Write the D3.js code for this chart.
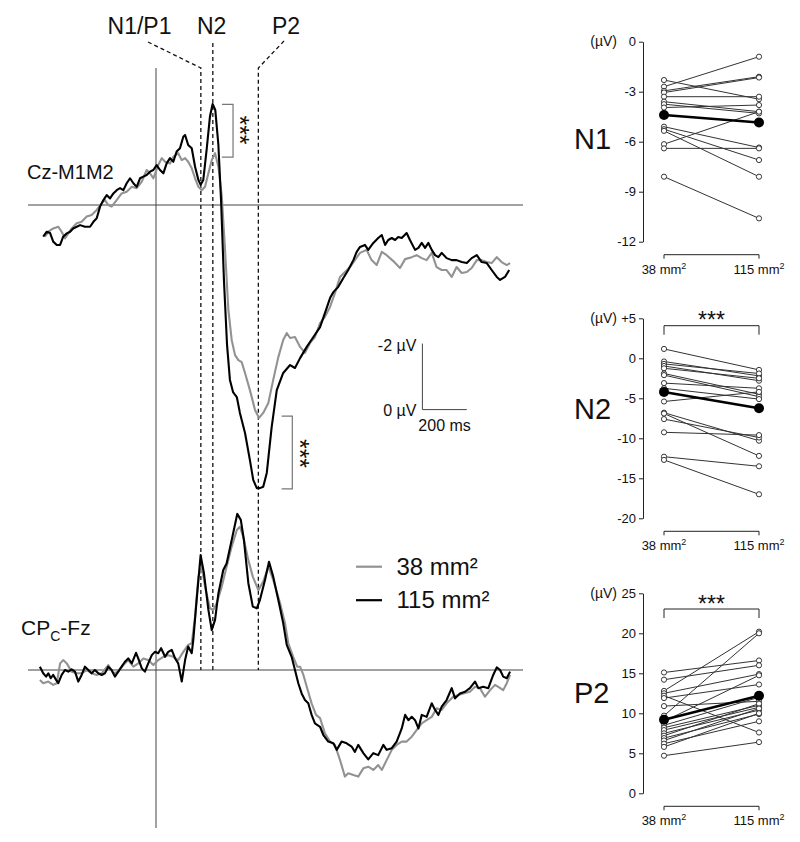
<!DOCTYPE html>
<html>
<head>
<meta charset="utf-8">
<script src="https://d3js.org/d3.v7.min.js"></script>
<style>
body { margin: 0; background: #fff; }
svg text { font-family: "Liberation Sans", Arial, sans-serif; fill: #111; }
</style>
</head>
<body>
<div id="chart"></div>
<script>
(function(){
"use strict";

// grand averages, ms / µV (negative plotted up)
var czTime38 = [-500,-485,-463,-440,-425,-410,-395,-380,-357,-335,-312,-290,-267,-245,-230,-215,-200,-177,-155,-132,-109,-87,-64,-42,-27,-12,10,26,41,63,78,100,116,131,145,161,176,191,206,221,236,251,266,281,296,311,326,341,356,371,386,401,423,446,464,483,506,528,551,573,589,604,626,649,671,694,716,739,761,784,806,829,851,874,896,919,949,971,994,1017,1039,1069,1099,1122,1152,1174,1197,1219,1242,1264,1287,1309,1332,1354,1377,1400,1422,1445,1467,1490,1512,1535,1557,1580,1595];
var czVal38 = [0.96,0.81,0.71,0.66,0.81,1.01,0.86,0.71,0.55,0.51,0.35,0.30,0.15,-0.05,-0.15,0,0.05,-0.15,-0.35,-0.40,-0.55,-0.51,-0.71,-1.06,-0.96,-0.81,-1.21,-1.42,-1.31,-1.26,-1.46,-1.57,-1.36,-1.42,-1.31,-1.11,-0.81,-0.55,-0.45,-0.55,-0.96,-1.36,-1.57,-1.16,-0.30,1.36,3.18,4.09,4.55,4.70,4.76,5.09,5.61,6.21,6.45,6.30,6.00,5.30,4.61,4.09,3.88,4.03,4.00,4.30,4.48,4.18,4.00,3.58,3.39,3.09,2.67,2.18,2.03,1.88,1.67,1.45,1.36,1.67,1.82,1.42,1.52,1.70,1.91,1.64,1.58,1.52,1.61,1.67,1.45,1.88,1.97,1.97,2.18,1.88,2.06,2.03,1.91,1.67,1.67,1.73,1.76,1.58,1.73,1.82,1.76];
var czTime115 = [-508,-492,-477,-463,-447,-432,-418,-402,-387,-373,-357,-342,-320,-297,-282,-267,-252,-237,-222,-207,-192,-177,-162,-147,-132,-117,-102,-87,-72,-57,-42,-27,-12,3,18,33,48,63,78,93,108,123,131,145,161,176,191,201,213,228,243,255,267,281,293,306,320,333,347,364,378,401,423,438,454,468,483,499,521,544,573,604,626,649,679,709,739,769,784,799,821,844,866,889,904,919,941,956,979,1001,1017,1032,1046,1062,1077,1091,1107,1129,1144,1167,1182,1197,1212,1227,1242,1257,1272,1287,1309,1332,1354,1377,1400,1422,1445,1467,1490,1512,1535,1550,1572,1591];
var czVal115 = [0.96,0.81,0.85,1.11,1.21,1.21,0.96,0.86,0.81,0.71,0.66,0.61,0.66,0.66,0.51,0.40,0.05,-0.15,-0.30,-0.20,-0.35,-0.45,-0.51,-0.45,-0.66,-0.81,-0.66,-0.55,-0.81,-0.86,-0.91,-1.01,-1.06,-1.21,-1.06,-0.96,-1.26,-1.42,-1.31,-1.62,-1.72,-2.07,-2.12,-1.82,-1.72,-1.16,-0.76,-0.61,-0.76,-1.67,-2.68,-3.06,-2.88,-1.82,-0.15,2.27,4.24,5.30,5.67,5.82,6.30,6.91,7.73,8.33,8.58,8.58,8.54,8.12,6.73,5.61,5.09,4.85,4.94,4.64,4.30,4.00,3.70,3.12,2.82,2.64,2.48,2.21,1.97,1.67,1.42,1.27,1.21,1.36,1.15,1.00,0.91,1.21,1.06,1.00,1.06,0.97,1.00,0.85,1.06,1.36,1.30,1.15,1.30,1.15,1.36,1.52,1.58,1.45,1.61,1.67,1.67,1.73,1.76,1.61,1.52,1.73,1.76,1.97,2.18,2.27,2.18,1.97];

var cpTime38 = [-523,-508,-485,-463,-447,-432,-418,-402,-380,-357,-335,-312,-290,-267,-245,-215,-192,-170,-147,-125,-102,-80,-57,-35,-12,10,33,55,78,100,123,145,161,176,191,206,221,243,258,273,296,318,341,364,378,393,416,436,461,483,506,528,559,581,596,618,636,649,664,679,701,721,739,761,784,806,829,851,866,889,911,934,956,979,1001,1017,1039,1062,1084,1107,1129,1152,1174,1197,1219,1242,1264,1287,1309,1339,1362,1384,1414,1437,1459,1482,1505,1527,1542,1564,1580,1595];
var cpVal38 = [0.30,0.40,0.35,0.45,0.40,-0.20,-0.30,-0.20,0.05,0.10,0.10,0,0.10,0.15,0.10,-0.15,0.10,0.05,-0.15,-0.30,-0.10,-0.20,-0.35,-0.30,-0.15,-0.30,-0.40,-0.45,-0.40,-0.30,-0.55,-0.76,-0.81,-1.62,-2.83,-3.13,-2.52,-1.87,-1.82,-2.02,-2.52,-3.13,-3.74,-4.24,-4.34,-4.04,-3.33,-2.83,-2.42,-2.68,-3.13,-2.73,-2.02,-1.42,-0.81,-0.40,-0.10,-0.10,0.15,0.51,1.01,1.36,1.46,1.92,2.17,2.27,2.73,3.23,3.13,3.18,3.23,2.98,2.93,3.03,2.88,3.03,2.73,2.42,2.27,2.17,2.17,2.02,1.82,1.62,1.52,1.42,1.16,1.21,1.01,0.81,0.76,0.71,0.66,0.51,0.55,0.81,0.61,0.45,0.51,0.61,0.40,0.15];
var cpTime115 = [-523,-508,-495,-485,-474,-463,-450,-440,-425,-410,-395,-380,-365,-350,-335,-320,-305,-290,-275,-260,-245,-230,-215,-200,-185,-170,-155,-140,-125,-109,-90,-80,-64,-50,-35,-19,-5,10,23,41,55,71,86,100,116,131,145,161,168,183,201,216,236,251,266,281,303,318,341,366,382,396,416,436,454,468,491,509,528,551,573,589,611,626,641,656,671,686,701,716,739,754,776,799,814,836,859,881,896,911,934,956,979,1001,1024,1039,1062,1084,1107,1122,1137,1152,1167,1182,1197,1219,1242,1257,1272,1287,1309,1332,1347,1369,1392,1414,1437,1452,1474,1497,1519,1535,1550,1564,1580,1595];
var cpVal115 = [-0.10,0.10,0.20,0.10,0.25,0.15,0.30,0.40,0.15,0,0.05,-0.02,0.05,0.35,0.15,-0.10,0,0.10,0,0.10,0.15,0.10,-0.10,0,0.20,0.05,-0.10,-0.25,-0.35,-0.20,-0.52,-0.35,-0.05,0.05,-0.20,-0.45,-0.55,-0.51,-0.66,-0.40,-0.55,-0.61,-0.35,-0.20,0.35,-0.30,-0.71,-0.51,-0.91,-2.12,-3.48,-2.93,-1.82,-1.21,-1.52,-2.32,-3.03,-3.23,-3.94,-4.73,-4.55,-3.94,-2.63,-1.92,-1.87,-2.12,-2.73,-3.28,-2.83,-2.12,-1.42,-0.76,-0.40,0,0.40,0.71,0.91,1.01,1.36,1.62,1.72,1.97,2.17,2.22,2.42,2.17,2.22,2.32,2.48,2.27,2.52,2.71,2.52,2.58,2.27,2.42,2.37,2.17,1.77,1.36,1.52,1.42,1.52,1.77,1.36,1.42,1.01,1.21,1.36,1.11,0.91,0.55,0.86,0.71,0.66,0.55,0.35,0.55,0.51,0.55,0.15,-0.08,0,0.20,0.25,0.05];

var peakTimes = [202, 256, 461]; // ms
var peakNames = ["N1/P1", "N2", "P2"];

// single subjects, µV
var conditions = ["38 mm²", "115 mm²"];
var n1Ticks = [0, -3, -6, -9, -12];
var n1Small = [-2.3, -2.7, -2.95, -3.05, -3.3, -3.6, -3.75, -3.95, -5.1, -5.25, -5.35, -6.15, -6.4, -8.1];
var n1Large = [-3.45, -0.9, -2.1, -2.15, -3.3, -4.2, -4.3, -3.8, -6.35, -7.1, -8.1, -4.2, -6.4, -10.6];
var n1Mean = [-4.4, -4.85];
var n2Ticks = [5, 0, -5, -10, -15, -20];
var n2Small = [1.17, -0.4, -0.7, -0.96, -1.25, -1.9, -2.1, -3.1, -3.75, -5.4, -6.8, -6.9, -7.6, -9.25, -12.3, -12.7];
var n2Large = [-1.45, -2.2, -1.9, -2.8, -2.5, -4.5, -4.8, -3.75, -5.1, -4.2, -10.3, -12.2, -9.9, -9.6, -13.5, -17];
var n2Mean = [-4.2, -6.25];
var p2Ticks = [0, 5, 10, 15, 20, 25];
var p2Small = [15.1, 14.2, 12.8, 12.5, 12.2, 11.9, 10.9, 9.7, 9.0, 8.5, 8.2, 7.9, 7.5, 7.2, 6.9, 6.6, 6.2, 5.8, 4.7];
var p2Large = [16.6, 16.0, 20.2, 14.9, 7.6, 13.6, 11.5, 20.0, 14.75, 12.0, 11.0, 10.75, 10.4, 11.2, 9.9, 10.6, 9.0, 10.0, 6.4];
var p2Mean = [9.2, 12.2];

var svg = d3.select("#chart").append("svg")
	.attr("width", 800)
	.attr("height", 842);

var x = d3.scaleLinear().domain([0, 200]).range([156, 200.4]);
var yTop = d3.scaleLinear().domain([0, 2]).range([205, 271]);
var yBot = d3.scaleLinear().domain([0, 2]).range([670, 736]);

// baselines and stimulus onset
[yTop(0), yBot(0)].forEach(function(y){
	svg.append("line")
		.attr("x1", 28).attr("x2", 523)
		.attr("y1", y).attr("y2", y)
		.attr("stroke", "#444").attr("stroke-width", 1);
});
svg.append("line")
	.attr("x1", x(0)).attr("x2", x(0))
	.attr("y1", 68).attr("y2", 828)
	.attr("stroke", "#444").attr("stroke-width", 1);

// dashed latency markers
var dash = svg.append("g")
	.attr("fill", "none")
	.attr("stroke", "#111")
	.attr("stroke-width", 1.3)
	.attr("stroke-dasharray", "4,3");
dash.append("path").attr("d", "M148,42L" + x(peakTimes[0]) + ",68V" + yBot(0));
dash.append("path").attr("d", "M" + x(peakTimes[1]) + ",43V" + yBot(0));
dash.append("path").attr("d", "M284,41L" + x(peakTimes[2]) + ",68V" + yBot(0));

var labelX = [139.5, 211.7, 286];
peakNames.forEach(function(n, i){
	svg.append("text")
		.attr("x", labelX[i]).attr("y", 33.5)
		.attr("text-anchor", "middle")
		.attr("font-size", 23)
		.text(n);
});

// traces
function trace(t, v, y, color){
	var line = d3.line()
		.x(function(d){ return x(d[0]); })
		.y(function(d){ return y(d[1]); });
	svg.append("path")
		.datum(d3.zip(t, v))
		.attr("d", line)
		.attr("fill", "none")
		.attr("stroke", color)
		.attr("stroke-width", 2.1)
		.attr("stroke-linejoin", "round");
}
trace(czTime38, czVal38, yTop, "#929292");
trace(czTime115, czVal115, yTop, "#000");
trace(cpTime38, cpVal38, yBot, "#929292");
trace(cpTime115, cpVal115, yBot, "#000");

// channel names
svg.append("text").attr("x", 27).attr("y", 178.5).attr("font-size", 20).text("Cz-M1M2");
var cp = svg.append("text").attr("x", 21).attr("y", 635).attr("font-size", 21);
cp.append("tspan").text("CP");
cp.append("tspan").attr("font-size", 14).attr("dy", 6).text("C");
cp.append("tspan").attr("dy", -6).text("-Fz");

// significance brackets on the traces
function bracket(t0, t1, v0, v1, starX, starY){
	svg.append("path")
		.attr("d", "M" + x(t0) + "," + yTop(v0) + "H" + x(t1) + "V" + yTop(v1) + "H" + x(t0))
		.attr("fill", "none").attr("stroke", "#777").attr("stroke-width", 1.2);
	svg.append("text")
		.attr("transform", "translate(" + starX + "," + starY + ") rotate(90)")
		.attr("text-anchor", "middle")
		.attr("font-size", 25)
		.text("***");
}
bracket(297, 347, -3.05, -1.45, 231, 130);
bracket(566, 614, 6.4, 8.6, 291, 453.5);

// scale bar
svg.append("path")
	.attr("d", "M" + x(1200) + "," + yTop(4.2) + "V" + yTop(6.2) + "H" + x(1400))
	.attr("fill", "none").attr("stroke", "#444").attr("stroke-width", 1);
svg.append("text").attr("x", x(1200) - 6).attr("y", yTop(4.2) + 7).attr("text-anchor", "end").attr("font-size", 16).text("-2 µV");
svg.append("text").attr("x", x(1200) - 6).attr("y", yTop(6.2) + 6).attr("text-anchor", "end").attr("font-size", 16).text("0 µV");
svg.append("text").attr("x", x(1300)).attr("y", yTop(6.2) + 21).attr("text-anchor", "middle").attr("font-size", 16).text("200 ms");

// legend
var legColors = ["#929292", "#000"];
conditions.forEach(function(c, i){
	var ly = 566.7 + i * 33.5;
	svg.append("line").attr("x1", 356).attr("x2", 382).attr("y1", ly).attr("y2", ly)
		.attr("stroke", legColors[i]).attr("stroke-width", 2.2);
	svg.append("text").attr("x", 396.5).attr("y", ly + 8).attr("font-size", 24).text(c);
});

// single subject panels
var cx = d3.scalePoint().domain(conditions).range([664, 759]);

function panel(cfg){
	var y = d3.scaleLinear().domain(cfg.domain).range([cfg.top, cfg.top + 200]);
	var g = svg.append("g");

	var ax = g.append("g")
		.attr("transform", "translate(643,0)")
		.call(d3.axisLeft(y).tickValues(cfg.ticks).tickSize(4).tickSizeOuter(0)
			.tickFormat(function(d){ return (d > 0 && cfg.plus ? "+" : "") + String(d).replace("−", "-"); }))
		.attr("font-family", "Liberation Sans, Arial, sans-serif")
		.attr("font-size", 13);
	ax.selectAll("path, line").attr("stroke", "#222");
	ax.selectAll("text").attr("fill", "#222");

	g.append("text").attr("x", 617).attr("y", cfg.top + 4.5).attr("text-anchor", "end")
		.attr("font-size", 14).text("(µV)");
	g.append("text").attr("x", 574).attr("y", cfg.titleY).attr("font-size", 29).text(cfg.title);

	// x "axis"
	var by = cfg.top + 213;
	g.append("path")
		.attr("d", "M" + cx(conditions[0]) + "," + (by + 4) + "V" + by + "H" + cx(conditions[1]) + "V" + (by + 4))
		.attr("fill", "none").attr("stroke", "#222").attr("stroke-width", 1);
	conditions.forEach(function(c){
		var parts = c.split("²");
		var t = g.append("text").attr("x", cx(c)).attr("y", by + 19)
			.attr("text-anchor", "middle").attr("font-size", 13);
		t.append("tspan").text(parts[0]);
		t.append("tspan").attr("font-size", 9).attr("dy", -5).text("2");
	});

	if (cfg.starTop) {
		var sy = cfg.starTop + 14;
		g.append("path")
			.attr("d", "M" + cx(conditions[0]) + "," + (sy + 9) + "V" + sy + "H" + cx(conditions[1]) + "V" + (sy + 9))
			.attr("fill", "none").attr("stroke", "#222").attr("stroke-width", 1);
		g.append("text").attr("x", 711.5).attr("y", cfg.starTop + 16.5)
			.attr("text-anchor", "middle").attr("font-size", 23).text("***");
	}

	var pairs = d3.zip(cfg.small, cfg.large);
	g.selectAll("line.subj")
		.data(pairs)
		.enter()
		.append("line")
			.attr("class", "subj")
			.attr("x1", cx(conditions[0]))
			.attr("x2", cx(conditions[1]))
			.attr("y1", function(d){ return y(d[0]); })
			.attr("y2", function(d){ return y(d[1]); })
			.attr("stroke", "#333").attr("stroke-width", 1);
	pairs.forEach(function(d){
		d.forEach(function(v, i){
			g.append("circle")
				.attr("cx", cx(conditions[i])).attr("cy", y(v)).attr("r", 2.6)
				.attr("fill", "#fff").attr("stroke", "#222").attr("stroke-width", 0.9);
		});
	});

	g.append("line")
		.attr("x1", cx(conditions[0])).attr("x2", cx(conditions[1]))
		.attr("y1", y(cfg.mean[0])).attr("y2", y(cfg.mean[1]))
		.attr("stroke", "#000").attr("stroke-width", 2.5);
	cfg.mean.forEach(function(v, i){
		g.append("circle").attr("cx", cx(conditions[i])).attr("cy", y(v)).attr("r", 5).attr("fill", "#000");
	});
}

panel({title: "N1", titleY: 149, top: 41.7, domain: [0, -12], ticks: n1Ticks,
	small: n1Small, large: n1Large, mean: n1Mean});
panel({title: "N2", titleY: 419, top: 318.3, domain: [5, -20], ticks: n2Ticks, plus: true,
	small: n2Small, large: n2Large, mean: n2Mean, starTop: 311.7});
panel({title: "P2", titleY: 703, top: 593.3, domain: [25, 0], ticks: p2Ticks,
	small: p2Small, large: p2Large, mean: p2Mean, starTop: 595});

})();
</script>
</body>
</html>
